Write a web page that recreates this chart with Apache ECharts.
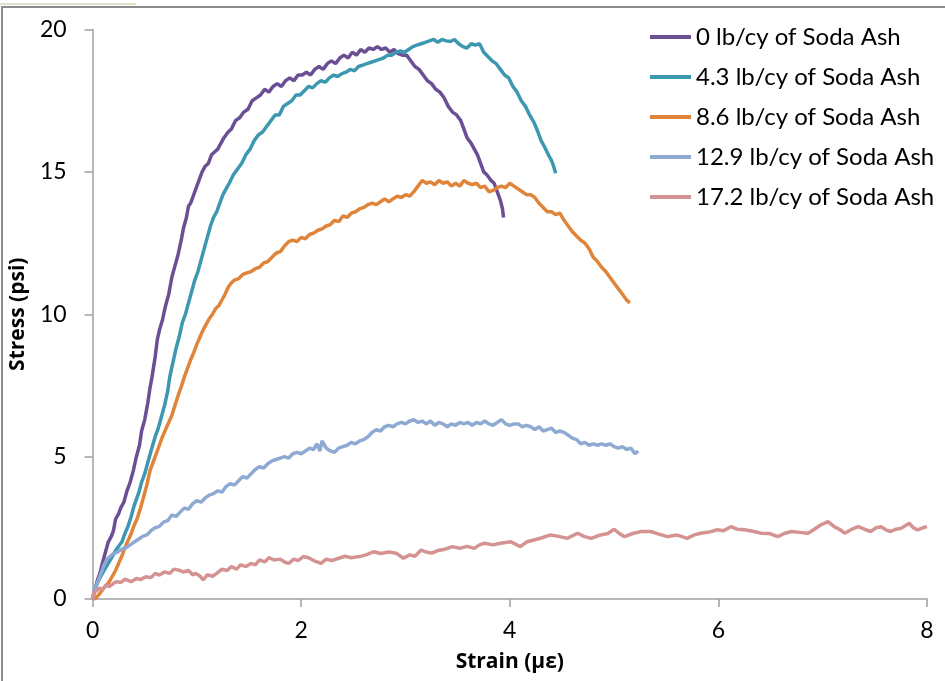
<!DOCTYPE html>
<html>
<head>
<meta charset="utf-8">
<script src="https://cdn.jsdelivr.net/npm/echarts@6/dist/echarts.min.js"></script>
<style>
html,body{margin:0;padding:0;background:#fff;}
#wrap{position:relative;width:945px;height:681px;overflow:hidden;}
#beige{position:absolute;left:0;top:3px;width:136px;height:2px;background:#e4e2cc;}
#frame{position:absolute;left:1px;top:6px;width:960px;height:700px;border-left:2px solid #8c8c8c;border-top:2px solid #8c8c8c;}
#chart{position:absolute;left:0;top:0;width:945px;height:681px;}
</style>
</head>
<body>
<div id="wrap"><div id="beige"></div><div id="frame"></div><div id="chart"></div></div>
<script>
const seriesNames = ["0 lb/cy of Soda Ash","4.3 lb/cy of Soda Ash","8.6 lb/cy of Soda Ash","12.9 lb/cy of Soda Ash","17.2 lb/cy of Soda Ash"];
const seriesColors = ["#6b4f94","#3c98b0","#e0843a","#8eaad2","#d49392"];
const xTicks = [0,2,4,6,8];
const yTicks = [0,5,10,15,20];

// [strain, stress]
const ash0 = [[0,0],[0.02,0.3],[0.05,0.7],[0.07,0.9],[0.09,1.2],[0.12,1.6],[0.15,2.0],[0.18,2.2],[0.2,2.4],[0.22,2.8],[0.25,3.0],[0.27,3.2],[0.3,3.4],[0.33,3.8],[0.36,4.1],[0.39,4.5],[0.42,5.0],[0.45,5.4],[0.47,5.9],[0.5,6.3],[0.53,6.9],[0.55,7.4],[0.57,7.8],[0.6,8.5],[0.62,9.1],[0.645,9.5],[0.67,9.8],[0.7,10.3],[0.73,10.7],[0.76,11.3],[0.79,11.7],[0.82,12.1],[0.85,12.6],[0.87,13.0],[0.9,13.4],[0.92,13.8],[0.94,13.9],[0.96,14.1],[0.99,14.4],[1.02,14.7],[1.05,15.0],[1.08,15.2],[1.11,15.3],[1.14,15.6],[1.17,15.7],[1.2,15.8],[1.23,16.0],[1.26,16.2],[1.3,16.4],[1.33,16.5],[1.37,16.8],[1.41,16.9],[1.45,17.1],[1.49,17.2],[1.53,17.5],[1.57,17.6],[1.61,17.7],[1.65,17.9],[1.69,17.8],[1.73,18.0],[1.77,18.1],[1.81,18.0],[1.85,18.2],[1.89,18.3],[1.93,18.2],[1.97,18.4],[2.01,18.4],[2.05,18.5],[2.09,18.4],[2.13,18.6],[2.17,18.7],[2.21,18.6],[2.25,18.8],[2.29,18.9],[2.33,18.8],[2.37,19.0],[2.41,19.1],[2.45,19.0],[2.49,19.2],[2.53,19.1],[2.57,19.3],[2.61,19.2],[2.65,19.35],[2.69,19.3],[2.73,19.4],[2.77,19.3],[2.81,19.35],[2.85,19.2],[2.89,19.3],[2.93,19.15],[2.97,19.1],[3.01,19.1],[3.05,18.9],[3.09,18.7],[3.13,18.6],[3.17,18.4],[3.21,18.2],[3.25,18.1],[3.29,17.9],[3.33,17.8],[3.37,17.6],[3.41,17.3],[3.45,17.1],[3.49,17.0],[3.53,16.8],[3.56,16.5],[3.59,16.2],[3.63,16.0],[3.66,15.8],[3.69,15.6],[3.72,15.3],[3.75,15.0],[3.78,14.9],[3.82,14.7],[3.85,14.6],[3.88,14.3],[3.91,14.0],[3.93,13.7],[3.94,13.4]];
const ash43 = [[0,0],[0.02,0.3],[0.05,0.6],[0.08,0.8],[0.11,1.0],[0.15,1.25],[0.19,1.5],[0.22,1.7],[0.25,1.85],[0.28,2.0],[0.31,2.3],[0.34,2.55],[0.37,2.9],[0.4,3.3],[0.44,3.7],[0.47,4.1],[0.5,4.4],[0.53,4.8],[0.56,5.2],[0.6,5.7],[0.63,6.0],[0.66,6.4],[0.69,6.8],[0.72,7.3],[0.74,7.8],[0.77,8.3],[0.8,8.8],[0.83,9.2],[0.86,9.7],[0.89,10.0],[0.92,10.4],[0.95,10.8],[0.98,11.2],[1.01,11.5],[1.04,11.9],[1.07,12.3],[1.1,12.7],[1.13,13.1],[1.16,13.4],[1.19,13.6],[1.22,13.9],[1.25,14.2],[1.28,14.4],[1.31,14.6],[1.35,14.9],[1.39,15.1],[1.43,15.3],[1.47,15.6],[1.51,15.8],[1.55,16.1],[1.59,16.3],[1.63,16.4],[1.67,16.6],[1.71,16.8],[1.75,17.0],[1.79,17.0],[1.83,17.3],[1.87,17.4],[1.91,17.5],[1.95,17.7],[1.99,17.7],[2.03,17.85],[2.07,18.0],[2.11,17.95],[2.15,18.1],[2.19,18.2],[2.23,18.15],[2.27,18.3],[2.31,18.4],[2.35,18.35],[2.39,18.45],[2.43,18.5],[2.47,18.6],[2.51,18.55],[2.55,18.7],[2.59,18.75],[2.63,18.8],[2.67,18.85],[2.71,18.9],[2.75,18.95],[2.79,19.0],[2.83,19.1],[2.87,19.1],[2.91,19.2],[2.95,19.25],[2.99,19.2],[3.03,19.3],[3.07,19.4],[3.11,19.45],[3.15,19.5],[3.19,19.55],[3.23,19.6],[3.27,19.65],[3.31,19.55],[3.35,19.65],[3.39,19.6],[3.43,19.58],[3.47,19.65],[3.51,19.5],[3.55,19.4],[3.59,19.35],[3.63,19.5],[3.67,19.45],[3.71,19.5],[3.75,19.2],[3.79,19.05],[3.83,18.9],[3.87,18.8],[3.91,18.6],[3.95,18.4],[3.99,18.3],[4.03,18.0],[4.07,17.8],[4.11,17.5],[4.15,17.3],[4.19,17.0],[4.23,16.75],[4.27,16.4],[4.3,16.1],[4.33,15.9],[4.37,15.6],[4.4,15.4],[4.42,15.2],[4.44,14.95]];
const ash86 = [[0,0],[0.03,0.02],[0.07,0.2],[0.11,0.4],[0.15,0.55],[0.19,0.8],[0.22,1.0],[0.25,1.25],[0.28,1.5],[0.31,1.8],[0.34,2.05],[0.37,2.3],[0.4,2.6],[0.43,2.85],[0.46,3.2],[0.49,3.6],[0.52,4.0],[0.55,4.5],[0.58,4.8],[0.61,5.1],[0.64,5.4],[0.67,5.7],[0.7,5.95],[0.73,6.2],[0.76,6.45],[0.79,6.8],[0.82,7.15],[0.85,7.45],[0.88,7.8],[0.91,8.1],[0.94,8.4],[0.97,8.65],[1.0,8.95],[1.03,9.2],[1.06,9.45],[1.09,9.65],[1.12,9.85],[1.15,10.0],[1.18,10.2],[1.21,10.3],[1.24,10.5],[1.27,10.7],[1.3,10.95],[1.33,11.1],[1.36,11.2],[1.4,11.25],[1.44,11.4],[1.48,11.45],[1.52,11.5],[1.56,11.6],[1.6,11.65],[1.64,11.8],[1.68,11.85],[1.72,12.0],[1.76,12.15],[1.8,12.2],[1.84,12.4],[1.88,12.55],[1.92,12.6],[1.96,12.55],[2.0,12.7],[2.04,12.65],[2.08,12.8],[2.12,12.85],[2.16,12.95],[2.2,13.0],[2.24,13.1],[2.28,13.15],[2.32,13.3],[2.36,13.25],[2.4,13.45],[2.44,13.4],[2.48,13.55],[2.52,13.6],[2.56,13.7],[2.6,13.75],[2.64,13.85],[2.68,13.9],[2.72,13.85],[2.76,13.95],[2.8,14.05],[2.84,13.95],[2.88,14.05],[2.92,14.15],[2.96,14.1],[3.0,14.2],[3.04,14.15],[3.08,14.3],[3.12,14.5],[3.16,14.7],[3.2,14.6],[3.24,14.65],[3.28,14.55],[3.32,14.7],[3.36,14.6],[3.4,14.65],[3.44,14.5],[3.48,14.6],[3.52,14.5],[3.56,14.7],[3.6,14.6],[3.64,14.55],[3.68,14.6],[3.72,14.45],[3.76,14.5],[3.8,14.3],[3.84,14.35],[3.88,14.45],[3.92,14.5],[3.96,14.45],[4.0,14.6],[4.04,14.5],[4.08,14.4],[4.12,14.3],[4.16,14.2],[4.2,14.2],[4.24,14.1],[4.28,13.9],[4.32,13.75],[4.36,13.6],[4.4,13.6],[4.44,13.5],[4.48,13.55],[4.52,13.3],[4.56,13.1],[4.6,12.9],[4.64,12.75],[4.68,12.6],[4.72,12.5],[4.76,12.3],[4.8,12.0],[4.84,11.85],[4.88,11.65],[4.92,11.5],[4.96,11.3],[5.0,11.1],[5.04,10.9],[5.08,10.7],[5.12,10.5],[5.15,10.4]];
const ash129 = [[0,0],[0.02,0.3],[0.05,0.6],[0.08,0.9],[0.11,1.2],[0.14,1.4],[0.17,1.5],[0.2,1.6],[0.24,1.65],[0.28,1.75],[0.32,1.8],[0.36,1.9],[0.4,2.0],[0.44,2.1],[0.48,2.2],[0.52,2.25],[0.56,2.4],[0.6,2.5],[0.64,2.55],[0.68,2.7],[0.72,2.75],[0.76,2.95],[0.8,2.9],[0.84,3.05],[0.88,3.2],[0.92,3.15],[0.96,3.35],[1.0,3.45],[1.04,3.4],[1.08,3.55],[1.12,3.65],[1.16,3.7],[1.2,3.8],[1.24,3.75],[1.28,3.95],[1.32,4.05],[1.36,4.0],[1.4,4.15],[1.44,4.3],[1.48,4.25],[1.52,4.4],[1.56,4.55],[1.6,4.65],[1.64,4.6],[1.68,4.75],[1.72,4.85],[1.76,4.9],[1.8,4.95],[1.84,5.0],[1.88,4.95],[1.92,5.1],[1.96,5.15],[2.0,5.1],[2.04,5.2],[2.08,5.3],[2.12,5.25],[2.15,5.45],[2.18,5.2],[2.2,5.55],[2.24,5.3],[2.28,5.2],[2.32,5.15],[2.36,5.3],[2.4,5.35],[2.44,5.4],[2.48,5.5],[2.52,5.45],[2.56,5.55],[2.6,5.6],[2.64,5.7],[2.68,5.85],[2.72,5.95],[2.76,5.9],[2.8,6.05],[2.84,6.1],[2.88,6.05],[2.92,6.15],[2.96,6.2],[3.0,6.15],[3.04,6.25],[3.08,6.3],[3.12,6.2],[3.16,6.25],[3.2,6.15],[3.24,6.25],[3.28,6.1],[3.32,6.2],[3.36,6.15],[3.4,6.05],[3.44,6.15],[3.48,6.1],[3.52,6.2],[3.56,6.15],[3.6,6.2],[3.64,6.1],[3.68,6.2],[3.72,6.15],[3.76,6.25],[3.8,6.15],[3.84,6.1],[3.88,6.2],[3.92,6.3],[3.96,6.15],[4.0,6.1],[4.04,6.15],[4.08,6.15],[4.12,6.05],[4.16,6.1],[4.2,6.05],[4.24,5.95],[4.28,6.05],[4.32,5.9],[4.36,5.95],[4.4,6.0],[4.44,5.85],[4.48,5.9],[4.52,5.85],[4.56,5.75],[4.6,5.65],[4.64,5.6],[4.68,5.45],[4.72,5.5],[4.76,5.4],[4.8,5.45],[4.84,5.4],[4.88,5.45],[4.92,5.4],[4.96,5.45],[5.0,5.35],[5.04,5.3],[5.08,5.35],[5.12,5.25],[5.16,5.3],[5.2,5.1],[5.23,5.2]];
const ash172 = [[0,0],[0.01,0.20],[0.04,0.3],[0.06,0.38],[0.1,0.35],[0.13,0.5],[0.16,0.43],[0.2,0.55],[0.23,0.61],[0.27,0.58],[0.31,0.7],[0.37,0.61],[0.42,0.72],[0.46,0.68],[0.51,0.78],[0.56,0.75],[0.6,0.9],[0.64,0.84],[0.69,0.95],[0.74,0.9],[0.78,1.05],[0.82,1.02],[0.87,0.95],[0.92,1.0],[0.96,0.85],[0.99,0.90],[1.03,0.8],[1.06,0.67],[1.1,0.85],[1.15,0.8],[1.19,0.90],[1.24,1.05],[1.29,1.0],[1.33,1.14],[1.38,1.05],[1.42,1.2],[1.47,1.14],[1.52,1.25],[1.56,1.2],[1.60,1.37],[1.65,1.3],[1.69,1.45],[1.74,1.37],[1.8,1.4],[1.84,1.3],[1.88,1.25],[1.93,1.4],[1.97,1.35],[2.02,1.49],[2.07,1.45],[2.12,1.35],[2.19,1.25],[2.24,1.4],[2.29,1.35],[2.36,1.43],[2.42,1.5],[2.48,1.45],[2.56,1.49],[2.62,1.55],[2.70,1.66],[2.76,1.6],[2.84,1.65],[2.91,1.61],[2.98,1.43],[3.04,1.55],[3.09,1.5],[3.15,1.72],[3.2,1.65],[3.25,1.61],[3.31,1.7],[3.38,1.75],[3.45,1.84],[3.52,1.78],[3.59,1.85],[3.66,1.78],[3.71,1.9],[3.76,1.96],[3.84,1.9],[3.91,1.96],[4.01,2.01],[4.10,1.84],[4.16,2.0],[4.23,2.07],[4.31,2.15],[4.39,2.25],[4.47,2.2],[4.55,2.13],[4.65,2.31],[4.71,2.2],[4.78,2.13],[4.87,2.25],[4.94,2.3],[5.00,2.45],[5.05,2.3],[5.10,2.19],[5.18,2.3],[5.26,2.37],[5.35,2.37],[5.43,2.28],[5.51,2.19],[5.6,2.25],[5.70,2.13],[5.77,2.25],[5.83,2.31],[5.91,2.35],[5.99,2.43],[6.05,2.4],[6.12,2.54],[6.18,2.45],[6.25,2.43],[6.33,2.38],[6.41,2.31],[6.49,2.3],[6.57,2.19],[6.63,2.3],[6.70,2.37],[6.78,2.34],[6.86,2.31],[6.92,2.45],[6.98,2.60],[7.05,2.72],[7.11,2.54],[7.16,2.45],[7.21,2.31],[7.28,2.45],[7.34,2.54],[7.4,2.45],[7.46,2.37],[7.51,2.5],[7.56,2.54],[7.61,2.42],[7.65,2.37],[7.7,2.45],[7.75,2.48],[7.83,2.66],[7.87,2.5],[7.91,2.43],[7.96,2.5],[8.0,2.54]];

const allData = [ash0, ash43, ash86, ash129, ash172];
const FONT = 'Lato, "Open Sans", sans-serif';
const TFONT = '"Open Sans", Lato, sans-serif';
const axisColor = '#a0a0a0';

const chart = echarts.init(document.getElementById('chart'), null, {renderer:'canvas'});
chart.setOption({
  animation:false,
  grid:{left:92, top:29.5, width:835, height:569.5, containLabel:false},
  xAxis:{type:'value', min:xTicks[0], max:xTicks[xTicks.length-1], interval:2,
    name:'Strain (με)', nameLocation:'middle', nameGap:53,
    nameTextStyle:{fontFamily:TFONT, fontWeight:'bold', fontSize:21, color:'#000'},
    axisLine:{lineStyle:{color:axisColor, width:1.5}},
    axisTick:{show:true, inside:false, length:8, lineStyle:{color:axisColor, width:1.5}},
    axisLabel:{fontFamily:FONT, fontSize:23, color:'#000', margin:20},
    splitLine:{show:false}},
  yAxis:{type:'value', min:yTicks[0], max:yTicks[yTicks.length-1], interval:5,
    name:'Stress (psi)', nameLocation:'middle', nameGap:50, nameRotate:90,
    nameTextStyle:{fontFamily:TFONT, fontWeight:'bold', fontSize:21, color:'#000'},
    axisLine:{show:true, lineStyle:{color:axisColor, width:1.5}},
    axisTick:{show:true, inside:false, length:8, lineStyle:{color:axisColor, width:1.5}},
    axisLabel:{fontFamily:FONT, fontSize:23, color:'#000', margin:26},
    splitLine:{show:false}},
  legend:{orient:'vertical', left:645, top:19, itemWidth:41, itemHeight:4, itemGap:14, icon:'rect',
    textStyle:{fontFamily:FONT, fontSize:24, color:'#000', lineHeight:26},
    data:seriesNames},
  series: allData.map((d,i)=>({
    name:seriesNames[i], type:'line', data:d, showSymbol:false, symbol:'none',
    lineStyle:{color:seriesColors[i], width:3.5}, itemStyle:{color:seriesColors[i]},
    z:2+i
  }))
});
</script>
</body>
</html>
